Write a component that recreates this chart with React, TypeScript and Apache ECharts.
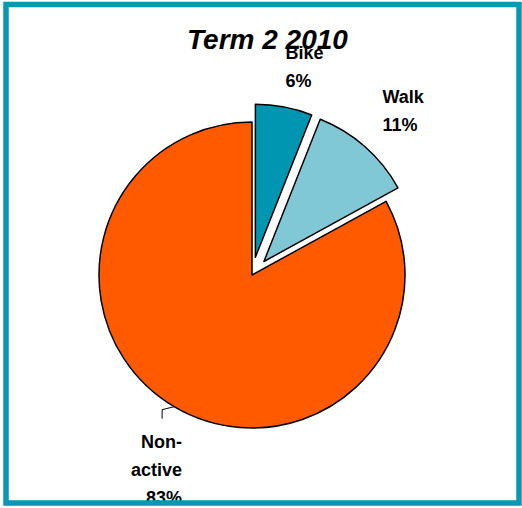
import React, { useEffect, useRef } from "react";
import * as echarts from "echarts";

const categories = ["Bike", "Walk", "Non-active"];
const values = [6, 11, 83];
const colors = ["#0095b0", "#80c8d6", "#ff5a00"];
const exploded = [true, true, false];
const titleText = "Term 2 2010";
// label nudges relative to ECharts' default outside position
const labelNudge = [
  [-13, -32],
  [-16, -50],
  [25, 56],
];

export default function App() {
  const ref = useRef<HTMLDivElement>(null);
  useEffect(() => {
    if (!ref.current) return;
    const chart = echarts.init(ref.current, undefined, { renderer: "svg" });
    const font = "'Liberation Sans', Arial, sans-serif";
    chart.setOption({
      animation: false,
      backgroundColor: "#ffffff",
      title: {
        text: titleText,
        left: 182,
        top: 20,
        textStyle: {
          fontFamily: font,
          fontSize: 28,
          fontWeight: "bold",
          fontStyle: "italic",
          color: "#000",
        },
      },
      graphic: [
        {
          type: "rect",
          shape: { x: 6, y: 4.5, width: 513, height: 498.5 },
          style: { fill: "none", stroke: "#0898b4", lineWidth: 5.5 },
          z: 100,
        },
      ],
      series: [
        {
          type: "pie",
          center: [252, 275],
          radius: [0, 153],
          startAngle: 90,
          clockwise: true,
          selectedMode: "multiple",
          selectedOffset: 18,
          percentPrecision: 0,
          itemStyle: { borderColor: "#000", borderWidth: 1.5 },
          emphasis: { disabled: true },
          label: {
            show: true,
            position: "outside",
            fontFamily: font,
            fontSize: 18,
            fontWeight: "bold",
            color: "#000",
            lineHeight: 28,
            align: "center",
            formatter: (p: any) =>
              p.name.replace("-", "-\n") + "\n" + Math.round(p.percent) + "%",
          },
          labelLine: { show: true, length: 8, length2: 8, lineStyle: { color: "#000", width: 1 } },
          labelLayout: (params: any) => {
            const i = params.dataIndex;
            const out: any = { dx: labelNudge[i][0], dy: labelNudge[i][1] };
            const pts = params.labelLinePoints;
            if (!exploded[i] && pts && pts.length) {
              const p0 = pts[0];
              out.labelLinePoints = [
                [p0[0], p0[1]],
                [p0[0] - 12, p0[1] + 3],
                [p0[0] - 12, p0[1] + 12],
              ];
            }
            return out;
          },
          data: categories.map((c, i) => ({
            name: c,
            value: values[i],
            selected: exploded[i],
            itemStyle: { color: colors[i] },
            labelLine: { show: !exploded[i] },
          })),
        },
      ],
    });
    return () => chart.dispose();
  }, []);
  return (
    <div
      ref={ref}
      style={{ position: "absolute", left: 0, top: 0, width: 522, height: 508 }}
    />
  );
}
